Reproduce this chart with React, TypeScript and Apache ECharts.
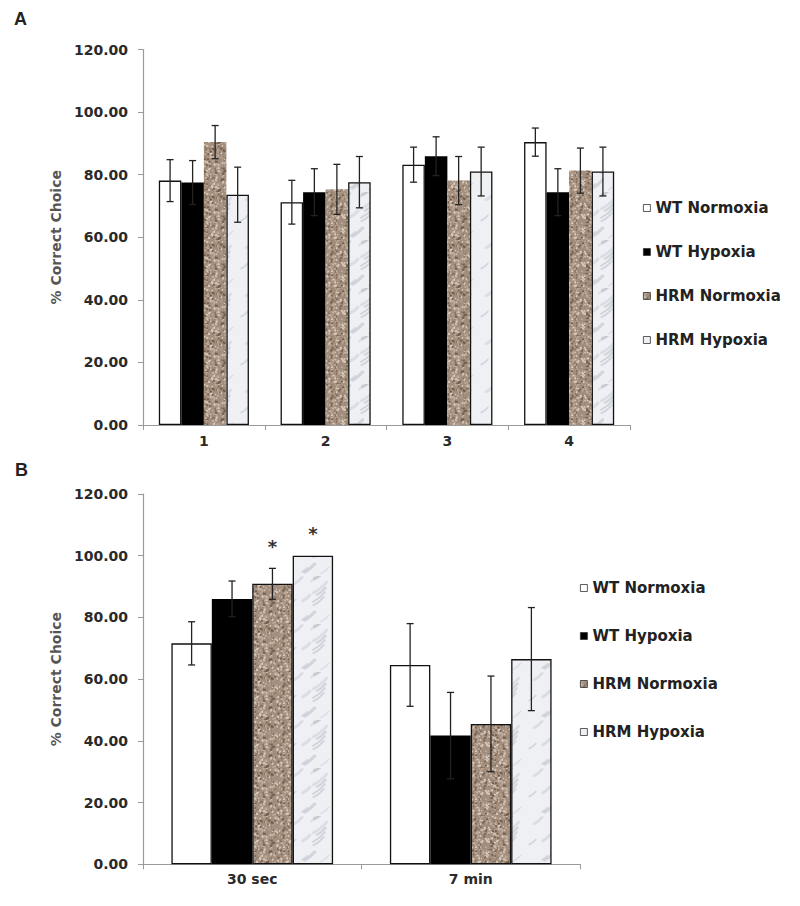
import React, { useEffect, useRef } from 'react';
import * as echarts from 'echarts';

// ---------- data ----------
const seriesNames = ['WT Normoxia', 'WT Hypoxia', 'HRM Normoxia', 'HRM Hypoxia'];

const trialsA = ['1', '2', '3', '4'];
const wtNormoxiaA = [78.1, 71.2, 83.2, 90.4];
const wtHypoxiaA = [77.5, 74.4, 85.9, 74.4];
const hrmNormoxiaA = [90.4, 75.3, 78.1, 81.3];
const hrmHypoxiaA = [73.6, 77.6, 81.0, 81.0];
const wtNormoxiaErrA = [6.7, 7.0, 5.6, 4.5];
const wtHypoxiaErrA = [7.0, 7.5, 6.2, 7.5];
const hrmNormoxiaErrA = [5.3, 8.0, 7.7, 7.2];
const hrmHypoxiaErrA = [8.8, 8.2, 7.8, 7.8];

const delaysB = ['30 sec', '7 min'];
const wtNormoxiaB = [71.6, 64.6];
const wtHypoxiaB = [86.0, 41.7];
const hrmNormoxiaB = [90.9, 45.5];
const hrmHypoxiaB = [100.0, 66.5];
const wtNormoxiaErrB = [7.0, 13.4];
const wtHypoxiaErrB = [5.8, 14.0];
const hrmNormoxiaErrB = [5.0, 15.5];
const hrmHypoxiaErrB = [0, 16.7];
const hrmNormoxiaSigB = [true, false];
const hrmHypoxiaSigB = [true, false];

const yMin = 0;
const yMax = 120;
const yInterval = 20;

// ---------- styling helpers ----------
const FONT = 'DejaVu Sans';
const GAP_RATIO = 0.26;

function makeTexture(kind: 'brown' | 'marble'): HTMLCanvasElement {
  const c = document.createElement('canvas');
  c.width = 48;
  c.height = 48;
  const ctx = c.getContext('2d')!;
  // deterministic hash for texture speckles (style only)
  let s = kind === 'brown' ? 1234567 : 7654321;
  const next = () => {
    s = (s * 1103515245 + 12345) % 2147483648;
    return s / 2147483648;
  };
  if (kind === 'brown') {
    ctx.fillStyle = '#a38e7d';
    ctx.fillRect(0, 0, 48, 48);
    for (let i = 0; i < 420; i++) {
      const x = next() * 48, y = next() * 48, r = 0.5 + next() * 0.8;
      const t = next();
      ctx.fillStyle = t < 0.45 ? '#d6c9bb' : t < 0.75 ? '#75604f' : '#bba896';
      ctx.beginPath();
      ctx.arc(x, y, r, 0, Math.PI * 2);
      ctx.fill();
    }
  } else {
    ctx.fillStyle = '#eef0f4';
    ctx.fillRect(0, 0, 48, 48);
    ctx.lineCap = 'round';
    for (let i = 0; i < 12; i++) {
      const x = next() * 48, y = next() * 48, len = 5 + next() * 9;
      ctx.strokeStyle = next() < 0.5 ? 'rgba(160,162,178,0.35)' : 'rgba(195,197,210,0.45)';
      ctx.lineWidth = 1.5 + next() * 2.5;
      ctx.beginPath();
      ctx.moveTo(x, y);
      ctx.quadraticCurveTo(x + len * 0.6, y - len * 0.3, x + len, y - len * 0.8);
      ctx.stroke();
    }
  }
  return c;
}

export default function App() {
  const ref = useRef<HTMLDivElement>(null);

  useEffect(() => {
    document.body.style.margin = '0';
    const chart = echarts.init(ref.current!, undefined, { renderer: 'svg' });

    const brown = { image: makeTexture('brown'), repeat: 'repeat' } as any;
    const marble = { image: makeTexture('marble'), repeat: 'repeat' } as any;

    const grids = [
      { left: 143, top: 49.5, width: 487, height: 375.5 },
      { left: 143, top: 494, width: 437, height: 370.3 },
    ];

    const axisLabelStyle = { color: '#2a2a2a', fontFamily: FONT, fontWeight: 'bold' as const, fontSize: 14 };

    const xAxes = [
      { cats: trialsA, margin: 9 },
      { cats: delaysB, margin: 8 },
    ].map((a, i) => ({
      type: 'category',
      gridIndex: i,
      data: a.cats,
      axisLine: { lineStyle: { color: '#9a9a9a', width: 1.2 } },
      axisTick: { show: true, length: 5, lineStyle: { color: '#9a9a9a' } },
      axisLabel: { ...axisLabelStyle, margin: a.margin },
    }));

    const yAxes = [0, 1].map((i) => ({
      type: 'value',
      gridIndex: i,
      min: yMin,
      max: yMax,
      interval: yInterval,
      name: '% Correct Choice',
      nameLocation: 'middle',
      nameGap: 80,
      nameTextStyle: { color: '#555', fontFamily: FONT, fontWeight: 'bold', fontSize: 14 },
      axisLine: { show: true, lineStyle: { color: '#9a9a9a', width: 1.2 } },
      axisTick: { show: true, length: 5, lineStyle: { color: '#9a9a9a' } },
      splitLine: { show: false },
      axisLabel: { ...axisLabelStyle, margin: 15, formatter: (v: number) => v.toFixed(2) },
    }));

    const panelA = [wtNormoxiaA, wtHypoxiaA, hrmNormoxiaA, hrmHypoxiaA];
    const panelAErr = [wtNormoxiaErrA, wtHypoxiaErrA, hrmNormoxiaErrA, hrmHypoxiaErrA];
    const panelB = [wtNormoxiaB, wtHypoxiaB, hrmNormoxiaB, hrmHypoxiaB];
    const panelBErr = [wtNormoxiaErrB, wtHypoxiaErrB, hrmNormoxiaErrB, hrmHypoxiaErrB];

    const fills = ['#ffffff', '#000000', brown, marble];
    const bordersA = [1.3, 0, 0, 1.3];
    const bordersB = [1.3, 0, 1.3, 1.3];

    const barSeries: any[] = [];
    [panelA, panelB].forEach((panel, p) => {
      panel.forEach((vals, si) => {
        barSeries.push({
          type: 'bar',
          name: seriesNames[si],
          xAxisIndex: p,
          yAxisIndex: p,
          data: vals,
          barGap: '0%',
          barCategoryGap: GAP_RATIO * 100 + '%',
          itemStyle: {
            color: fills[si],
            borderColor: '#111',
            borderWidth: (p === 0 ? bordersA : bordersB)[si],
          },
        });
      });
    });

    const errData = (vals: number[][], errs: number[][]) => {
      const out: number[][] = [];
      vals.forEach((arr, si) =>
        arr.forEach((v, ci) => {
          if (errs[si][ci] > 0) out.push([ci, v, errs[si][ci], si]);
        })
      );
      return out;
    };

    const barX = (api: any, ci: number, si: number) => {
      const catW = api.size([1, 0])[0];
      const groupW = catW * (1 - GAP_RATIO);
      const bw = groupW / 4;
      return api.coord([ci, 0])[0] - groupW / 2 + bw * (si + 0.5);
    };

    const errSeries = [
      errData(panelA, panelAErr),
      errData(panelB, panelBErr),
    ].map((data, p) => ({
      type: 'custom',
      xAxisIndex: p,
      yAxisIndex: p,
      z: 5,
      silent: true,
      data,
      renderItem: (params: any, api: any) => {
        const ci = api.value(0), v = api.value(1), e = api.value(2), si = api.value(3);
        const x = barX(api, ci, si);
        const y1 = api.coord([ci, v + e])[1];
        const y2 = api.coord([ci, v - e])[1];
        const cap = 3.5;
        const st = { stroke: '#222', lineWidth: 1.3 };
        return {
          type: 'group',
          children: [
            { type: 'line', shape: { x1: x, y1, x2: x, y2 }, style: st },
            { type: 'line', shape: { x1: x - cap, y1, x2: x + cap, y2: y1 }, style: st },
            { type: 'line', shape: { x1: x - cap, y1: y2, x2: x + cap, y2 }, style: st },
          ],
        };
      },
    }));

    const sigData: number[][] = [];
    [[hrmNormoxiaSigB, 2], [hrmHypoxiaSigB, 3]].forEach(([sig, si]: any) => {
      (sig as boolean[]).forEach((flag, ci) => {
        if (flag) sigData.push([ci, panelB[si][ci] + panelBErr[si][ci], si]);
      });
    });

    const sigSeries = {
      type: 'custom',
      xAxisIndex: 1,
      yAxisIndex: 1,
      z: 6,
      silent: true,
      data: sigData,
      renderItem: (params: any, api: any) => {
        const ci = api.value(0), top = api.value(1), si = api.value(2);
        const x = barX(api, ci, si);
        const y = api.coord([ci, top])[1];
        return {
          type: 'text',
          style: {
            x,
            y: y - 22,
            text: '*',
            fill: '#333',
            font: 'bold 18px ' + FONT,
            textAlign: 'center',
            textVerticalAlign: 'middle',
          },
        };
      },
    };

    const legendCommon = {
      orient: 'vertical',
      data: seriesNames,
      icon: 'rect',
      itemWidth: 7,
      itemHeight: 7,
      itemStyle: { borderColor: '#333', borderWidth: 0.8 },
      textStyle: { color: '#222', fontFamily: FONT, fontWeight: 'bold', fontSize: 15, lineHeight: 18 },
      selectedMode: false,
    };

    chart.setOption({
      animation: false,
      backgroundColor: '#ffffff',
      grid: grids,
      xAxis: xAxes,
      yAxis: yAxes,
      legend: [
        { ...legendCommon, left: 638, top: 194, itemGap: 26 },
        { ...legendCommon, left: 575, top: 574, itemGap: 30 },
      ],
      graphic: [
        { type: 'text', left: 14, top: 10, style: { text: 'A', font: 'bold 18px "Liberation Sans"', fill: '#222' } },
        { type: 'text', left: 15, top: 461, style: { text: 'B', font: 'bold 18px "Liberation Sans"', fill: '#222' } },
      ],
      series: [...barSeries, ...errSeries, sigSeries],
    });

    return () => chart.dispose();
  }, []);

  return <div ref={ref} style={{ width: 800, height: 906 }} />;
}
